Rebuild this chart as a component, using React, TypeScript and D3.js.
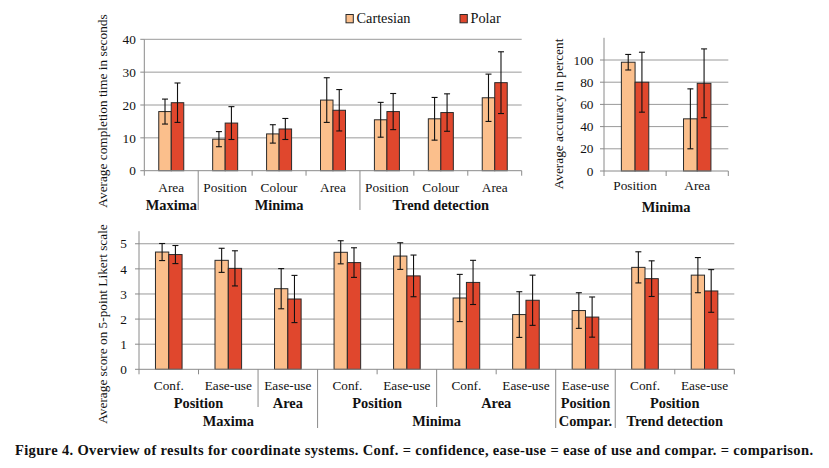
import React from "react";
import * as d3 from "d3";

// ---------- Data ----------
const seriesNames = ["Cartesian", "Polar"];
const seriesColors = ["#FBBF8C", "#E0472D"];

// Chart A: completion time
const timeCategories = ["Area", "Position", "Colour", "Area", "Position", "Colour", "Area"];
const timeGroupLabels = ["Maxima", "Minima", "Trend detection"];
const timeGroupSizes = [1, 3, 3];
const timeCartesian = [18.0, 9.6, 11.2, 21.5, 15.5, 15.8, 22.2];
const timeCartesianErr = [3.8, 2.3, 2.8, 6.8, 5.3, 6.5, 7.2];
const timePolar = [20.7, 14.5, 12.7, 18.4, 18.0, 17.7, 26.8];
const timePolarErr = [6.0, 5.0, 3.2, 6.3, 5.5, 5.7, 9.4];
const timeTicks = [0, 10, 20, 30, 40];

// Chart B: accuracy
const accCategories = ["Position", "Area"];
const accGroupLabels = ["Minima"];
const accGroupSizes = [2];
const accCartesian = [98, 47];
const accCartesianErr = [7, 27];
const accPolar = [80, 79];
const accPolarErr = [27, 31];
const accTicks = [0, 20, 40, 60, 80, 100];

// Chart C: Likert
const likertCategories = ["Conf.", "Ease-use", "Ease-use", "Conf.", "Ease-use", "Conf.", "Ease-use", "Ease-use", "Conf.", "Ease-use"];
const likertLevel2Labels = ["Position", "Area", "Position", "Area", "Position", "Position"];
const likertLevel2Sizes = [2, 1, 2, 2, 1, 2];
const likertLevel3Labels = ["Maxima", "Minima", "Compar.", "Trend detection"];
const likertLevel3Sizes = [3, 4, 1, 2];
const likertCartesian = [4.67, 4.34, 3.21, 4.66, 4.51, 2.84, 2.18, 2.34, 4.06, 3.75];
const likertCartesianErr = [0.34, 0.48, 0.8, 0.46, 0.53, 0.94, 0.91, 0.71, 0.62, 0.7];
const likertPolar = [4.57, 4.02, 2.8, 4.25, 3.72, 3.46, 2.75, 2.08, 3.61, 3.12];
const likertPolarErr = [0.36, 0.7, 0.94, 0.59, 0.83, 0.88, 1.0, 0.8, 0.71, 0.85];
const likertTicks = [0, 1, 2, 3, 4, 5];

const caption =
  "Figure 4. Overview of results for coordinate systems. Conf. = confidence, ease-use = ease of use and compar. = comparison.";

const FONT = "'Liberation Serif', 'Times New Roman', serif";
const AXIS = "#8a8a8a";
const GRID = "#9a9a9a";

type Level = { labels: string[]; sizes: number[]; y: number; lineEnd: number; bold: boolean };

type PanelProps = {
  x0: number;
  x1: number;
  yBottom: number;
  yTop: number;
  domainMax: number;
  ticks: number[];
  gridTicks: number[];
  categories: string[];
  values: number[][];
  errors: number[][];
  barWidth: number;
  catLabelY: number;
  levels: Level[];
  tickLabelGap: number;
  yTitle: string;
  yTitleX: number;
  yTitleY: number;
  shortTick: number;
};

function Panel(p: PanelProps) {
  const n = p.categories.length;
  const x = d3.scaleBand<number>().domain(d3.range(n)).range([p.x0, p.x1]).padding(0);
  const y = d3.scaleLinear().domain([0, p.domainMax]).range([p.yBottom, p.yTop]);
  const inner = d3
    .scaleBand<number>()
    .domain([0, 1])
    .range([-p.barWidth, p.barWidth])
    .padding(0);
  const step = x.step();
  const boundaryEnd: number[] = d3.range(n + 1).map(() => p.yBottom + p.shortTick);
  p.levels.forEach((lv) => {
    let acc = 0;
    lv.sizes.forEach((s, i) => {
      if (i > 0) boundaryEnd[acc] = Math.max(boundaryEnd[acc], lv.lineEnd);
      acc += s;
    });
  });
  return (
    <g>
      {p.gridTicks.map((t) => (
        <line key={"g" + t} x1={p.x0} x2={p.x1} y1={y(t)} y2={y(t)} stroke={GRID} strokeWidth={1} />
      ))}
      <line x1={p.x0} x2={p.x0} y1={y(p.domainMax)} y2={p.yBottom} stroke={AXIS} strokeWidth={1} />
      {p.ticks.map((t) => (
        <g key={"t" + t}>
          <line x1={p.x0 - 4} x2={p.x0} y1={y(t)} y2={y(t)} stroke={AXIS} />
          <text
            x={p.x0 - p.tickLabelGap}
            y={y(t)}
            dy="0.35em"
            textAnchor="end"
            fontFamily={FONT}
            fontSize={13.3}
            fill="#111"
          >
            {t}
          </text>
        </g>
      ))}
      {p.values.map((vals, si) =>
        vals.map((v, ci) => {
          const cx = (x(ci) as number) + step / 2;
          const bx = cx + (inner(si) as number);
          const bw = inner.bandwidth();
          const e = p.errors[si][ci];
          const mx = bx + bw / 2;
          return (
            <g key={`b${si}-${ci}`}>
              <rect
                x={bx}
                y={y(v)}
                width={bw}
                height={p.yBottom - y(v)}
                fill={seriesColors[si]}
                stroke="#2a2a2a"
                strokeWidth={1}
              />
              <line x1={mx} x2={mx} y1={y(v + e)} y2={y(v - e)} stroke="#111" strokeWidth={1.1} />
              <line x1={mx - 3} x2={mx + 3} y1={y(v + e)} y2={y(v + e)} stroke="#111" strokeWidth={1.1} />
              <line x1={mx - 3} x2={mx + 3} y1={y(v - e)} y2={y(v - e)} stroke="#111" strokeWidth={1.1} />
            </g>
          );
        })
      )}
      <line x1={p.x0} x2={p.x1} y1={p.yBottom} y2={p.yBottom} stroke={AXIS} strokeWidth={1} />
      {boundaryEnd.map((end, i) => (
        <line
          key={"bd" + i}
          x1={p.x0 + i * step}
          x2={p.x0 + i * step}
          y1={p.yBottom}
          y2={end}
          stroke={AXIS}
          strokeWidth={1}
        />
      ))}
      {p.categories.map((c, i) => (
        <text
          key={"c" + i}
          x={(x(i) as number) + step / 2}
          y={p.catLabelY}
          textAnchor="middle"
          fontFamily={FONT}
          fontSize={13.3}
          fill="#111"
        >
          {c}
        </text>
      ))}
      {p.levels.map((lv, li) => {
        let acc = 0;
        return lv.labels.map((lab, gi) => {
          const start = acc;
          acc += lv.sizes[gi];
          const cx = p.x0 + ((start + acc) / 2) * step;
          return (
            <text
              key={`l${li}-${gi}`}
              x={cx}
              y={lv.y}
              textAnchor="middle"
              fontFamily={FONT}
              fontWeight={lv.bold ? "bold" : "normal"}
              fontSize={14.4}
              fill="#111"
            >
              {lab}
            </text>
          );
        });
      })}
      <text
        transform={`translate(${p.yTitleX},${p.yTitleY}) rotate(-90)`}
        textAnchor="middle"
        dy="0.35em"
        fontFamily={FONT}
        fontSize={13.3}
        fill="#111"
      >
        {p.yTitle}
      </text>
    </g>
  );
}

export default function App() {
  return (
    <svg width={829} height={468} style={{ position: "absolute", left: 0, top: 0, background: "#fff" }}>
      <rect width={829} height={468} fill="#fff" />
      {seriesNames.map((s, i) => {
        const lx = [346, 460][i];
        return (
          <g key={s}>
            <rect x={lx} y={14.5} width={7.3} height={8.3} fill={seriesColors[i]} stroke="#2a2a2a" strokeWidth={1} />
            <text x={lx + 10.5} y={23} fontFamily={FONT} fontSize={14.3} fill="#111">
              {s}
            </text>
          </g>
        );
      })}
      <Panel
        x0={144.3}
        x1={521.7}
        yBottom={170.7}
        yTop={39.3}
        domainMax={40}
        ticks={timeTicks}
        gridTicks={timeTicks.slice(1)}
        categories={timeCategories}
        values={[timeCartesian, timePolar]}
        errors={[timeCartesianErr, timePolarErr]}
        barWidth={12.5}
        catLabelY={191.5}
        levels={[{ labels: timeGroupLabels, sizes: timeGroupSizes, y: 210, lineEnd: 210, bold: true }]}
        tickLabelGap={8.5}
        yTitle="Average completion time in seconds"
        yTitleX={102}
        yTitleY={111}
        shortTick={5}
      />
      <Panel
        x0={604}
        x1={728.3}
        yBottom={171}
        yTop={37.8}
        domainMax={120}
        ticks={accTicks}
        gridTicks={accTicks.slice(1)}
        categories={accCategories}
        values={[accCartesian, accPolar]}
        errors={[accCartesianErr, accPolarErr]}
        barWidth={13.7}
        catLabelY={190}
        levels={[{ labels: accGroupLabels, sizes: accGroupSizes, y: 212, lineEnd: 176, bold: true }]}
        tickLabelGap={10.5}
        yTitle="Average accuracy in percent"
        yTitleX={558.5}
        yTitleY={114}
        shortTick={5}
      />
      <Panel
        x0={139}
        x1={734.3}
        yBottom={369.3}
        yTop={231.2}
        domainMax={5.5}
        ticks={likertTicks}
        gridTicks={likertTicks.slice(1)}
        categories={likertCategories}
        values={[likertCartesian, likertPolar]}
        errors={[likertCartesianErr, likertPolarErr]}
        barWidth={13.3}
        catLabelY={390}
        levels={[
          { labels: likertLevel2Labels, sizes: likertLevel2Sizes, y: 408, lineEnd: 407, bold: true },
          { labels: likertLevel3Labels, sizes: likertLevel3Sizes, y: 426, lineEnd: 428, bold: true },
        ]}
        tickLabelGap={12}
        yTitle="Average score on 5-point Likert scale"
        yTitleX={102}
        yTitleY={324}
        shortTick={5}
      />
      <text
        x={414}
        y={455}
        textAnchor="middle"
        fontFamily={FONT}
        fontWeight="bold"
        fontSize={14.5}
        textLength={798}
        lengthAdjust="spacing"
        fill="#111"
      >
        {caption}
      </text>
    </svg>
  );
}
